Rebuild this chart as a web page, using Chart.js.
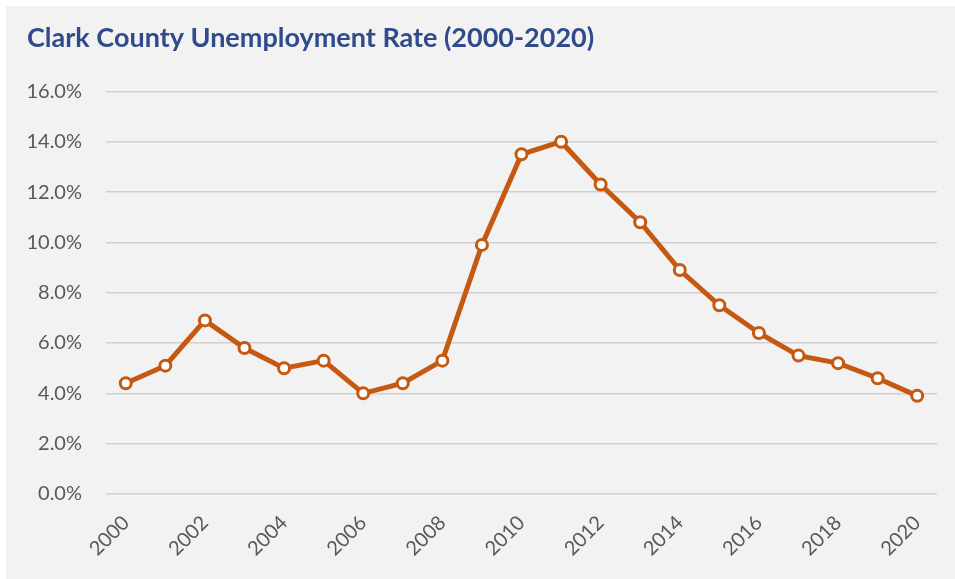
<!DOCTYPE html>
<html>
<head>
<meta charset="utf-8">
<script src="https://cdn.jsdelivr.net/npm/chart.js@4.4.1/dist/chart.umd.min.js"></script>
<style>
  html, body { margin: 0; padding: 0; background: #ffffff; }
  #wrap { width: 955px; height: 579px; position: relative; }
  canvas { display: block; }
</style>
</head>
<body>
<div id="wrap"><canvas id="c" width="955" height="579"></canvas></div>
<script>
const years = ["2000","2001","2002","2003","2004","2005","2006","2007","2008","2009","2010",
               "2011","2012","2013","2014","2015","2016","2017","2018","2019","2020"];
const unemploymentRate = [4.4, 5.1, 6.9, 5.8, 5.0, 5.3, 4.0, 4.4, 5.3, 9.9, 13.5,
                          14.0, 12.3, 10.8, 8.9, 7.5, 6.4, 5.5, 5.2, 4.6, 3.9];
const yTicks = [0, 2, 4, 6, 8, 10, 12, 14, 16];
const titleText = "Clark County Unemployment Rate (2000-2020)";

const bgPlugin = {
  id: 'bg',
  beforeDraw(chart) {
    const ctx = chart.ctx;
    ctx.save();
    ctx.fillStyle = '#ffffff';
    ctx.fillRect(0, 0, chart.width, chart.height);
    ctx.fillStyle = '#f2f2f2';
    ctx.fillRect(6, 6, chart.width - 6, chart.height - 6);
    ctx.restore();
  }
};

new Chart(document.getElementById('c'), {
  type: 'line',
  data: {
    labels: years,
    datasets: [{
      label: 'Unemployment Rate',
      data: unemploymentRate,
      borderColor: '#c65911',
      borderWidth: 5,
      backgroundColor: '#ffffff',
      pointBackgroundColor: '#ffffff',
      pointBorderColor: '#c65911',
      pointBorderWidth: 3,
      pointRadius: 5.5,
      pointHoverRadius: 5.5,
      tension: 0
    }]
  },
  options: {
    responsive: false,
    animation: false,
    devicePixelRatio: 1,
    layout: { padding: { left: 27, right: 18, top: 0, bottom: 0 } },
    plugins: {
      legend: { display: false },
      tooltip: { enabled: false },
      title: {
        display: true,
        text: titleText,
        align: 'start',
        color: '#2f4b8c',
        font: { family: 'Lato', size: 27, weight: 'bold' },
        padding: { top: 22, bottom: 37 }
      }
    },
    scales: {
      x: {
        offset: true,
        grid: { display: false, drawTicks: false },
        border: { display: false },
        afterFit: function(axis) { axis.height = 85; axis.paddingLeft = 0; axis.paddingRight = 0; },
        ticks: {
          autoSkip: false,
          maxRotation: 45,
          minRotation: 45,
          padding: 17,
          color: '#595959',
          font: { family: 'Lato', size: 20 },
          callback: function(val, idx) { return idx % 2 === 0 ? years[idx] : ''; }
        }
      },
      y: {
        min: 0,
        max: 16,
        afterBuildTicks: function(axis) { axis.ticks = yTicks.map(v => ({ value: v })); },
        afterFit: function(axis) { axis.width = 79; },
        grid: { color: '#d0d0d0', lineWidth: 1.5, drawTicks: false },
        border: { display: false },
        ticks: {
          padding: 24,
          color: '#595959',
          font: { family: 'Lato', size: 20 },
          callback: function(v) { return v.toFixed(1) + '%'; }
        }
      }
    }
  },
  plugins: [bgPlugin]
});
</script>
</body>
</html>
